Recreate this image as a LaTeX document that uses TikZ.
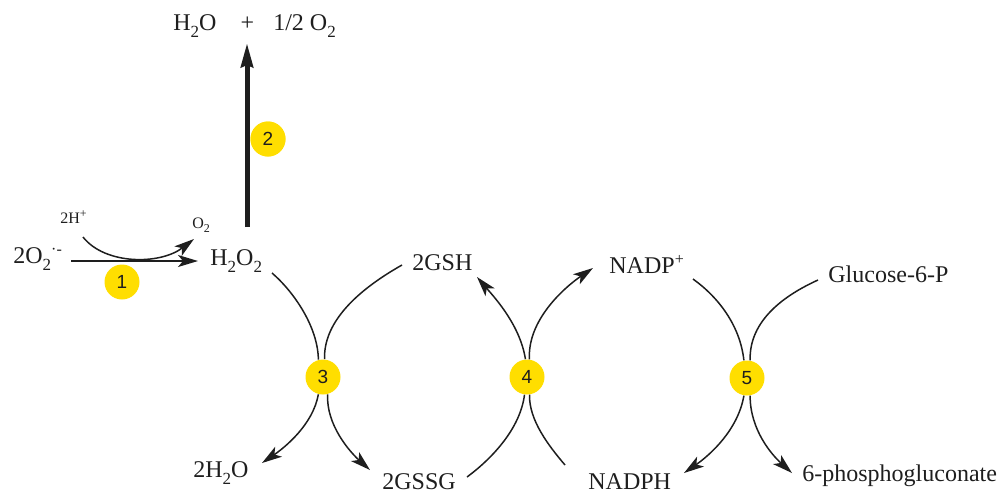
\documentclass[tikz,border=0pt]{standalone}
\usepackage{fontspec}
\setmainfont{Liberation Serif}
\newfontfamily\numfont{Liberation Sans}
\usetikzlibrary{arrows.meta}
\definecolor{enzyme}{RGB}{255,222,0}
\definecolor{ink}{RGB}{30,30,30}
% lowered subscripts for formulas at label size and at small size
\newcommand{\lsub}[1]{\raisebox{-3.5pt}{\fontsize{8.5}{10}\selectfont #1}}
\newcommand{\ssub}[1]{\raisebox{-2.3pt}{\fontsize{6}{7}\selectfont #1}}

\begin{document}
\begin{tikzpicture}[x=0.5pt,y=-0.5pt,
  lbl/.style={anchor=base west, inner sep=0pt, font=\fontsize{12}{14}\selectfont, text=ink},
  small/.style={anchor=base west, inner sep=0pt, font=\fontsize{8}{10}\selectfont, text=ink},
  enz/.style={circle, fill=enzyme, minimum size=17.5pt, inner sep=0pt,
              font=\numfont\fontsize{9.5}{10}\selectfont, text=ink},
  flow/.style={draw=ink, line width=0.75pt},
  conv/.style={flow, -{Stealth[length=10pt,width=6pt,inset=2.5pt]}},
  bigconv/.style={draw=ink, line width=2.5pt, -{Stealth[length=12pt,width=6pt,inset=1pt]}},
]
\path[use as bounding box] (0,0) rectangle (1000,494);

% metabolites
\node[lbl] (prod) at (173,30) {H\lsub{2}O\hspace{1em}+\hspace{0.8em}1/2 O\lsub{2}};
\node[lbl] (sup) at (13,263) {2O\lsub{2}\textsuperscript{·-}};
\node[small] (hplus) at (60,223) {2H\textsuperscript{+}};
\node[small] (oxy) at (192,228) {O\ssub{2}};
\node[lbl] (hp) at (210,265) {H\lsub{2}O\lsub{2}};
\node[lbl] (gsh) at (412,270) {2GSH};
\node[lbl] (nadp) at (609,273) {NADP\textsuperscript{+}};
\node[lbl] (g6p) at (828,282) {Glucose-6-P};
\node[lbl] (water) at (193,477) {2H\lsub{2}O};
\node[lbl] (gssg) at (382,489) {2GSSG};
\node[lbl] (nadph) at (588,489) {NADPH};
\node[lbl] (pg) at (802,481) {6-phosphogluconate};

% enzymes
\node[enz] (c1) at (122,282) {1};
\node[enz] (c2) at (268,139) {2};
\node[enz] (c3) at (323,377) {3};
\node[enz] (c4) at (527,377) {4};
\node[enz] (c5) at (747,378) {5};

% free ends of the connectors
\coordinate (r1a) at (71,261);
\coordinate (r1b) at (198,261);
\coordinate (hin) at (83,237);
\coordinate (oout) at (194,239);
\coordinate (t2s) at (247,227);
\coordinate (t2e) at (247,43);
\coordinate (hpend) at (272,273);
\coordinate (gshend) at (402,265);
\coordinate (wend) at (262,463);
\coordinate (gssgend) at (370,470);
\coordinate (gshin) at (477,277);
\coordinate (nadpin) at (593,268);
\coordinate (gssgout) at (467,477);
\coordinate (nadphout) at (565,465);
\coordinate (nadpout) at (693,279);
\coordinate (g6pout) at (818,280);
\coordinate (nadphin) at (684,473);
\coordinate (pgin) at (792,473);

% reaction 1: dismutation
\draw[conv] (r1a) -- (r1b);
\draw[conv] (hin) .. controls (105,265) and (160,265) .. (oout);

% reaction 2: catalase
\draw[bigconv] (t2s) -- (t2e);
\node[enz] at (c2) {2};

% reaction 3
\draw[flow] (hpend) .. controls (294,292) and (318,327) .. (c3.105);
\draw[flow] (gshend) .. controls (372,282) and (323,315) .. (c3.85);
\draw[conv] (c3.255) .. controls (313,425) and (284,448) .. (wend);
\draw[conv] (c3.285) .. controls (326,425) and (350,452) .. (gssgend);

% reaction 4
\draw[conv] (c4.95) .. controls (520,325) and (495,298) .. (gshin);
\draw[conv] (c4.82) .. controls (527,320) and (565,287) .. (nadpin);
\draw[flow] (gssgout) .. controls (490,460) and (520,430) .. (c4.262);
\draw[flow] (nadphout) .. controls (548,445) and (529,420) .. (c4.278);

% reaction 5
\draw[flow] (nadpout) .. controls (718,297) and (740,325) .. (c5.100);
\draw[flow] (g6pout) .. controls (785,295) and (749,320) .. (c5.80);
\draw[conv] (c5.260) .. controls (738,430) and (710,455) .. (nadphin);
\draw[conv] (c5.280) .. controls (750,430) and (772,455) .. (pgin);
\end{tikzpicture}
\end{document}
